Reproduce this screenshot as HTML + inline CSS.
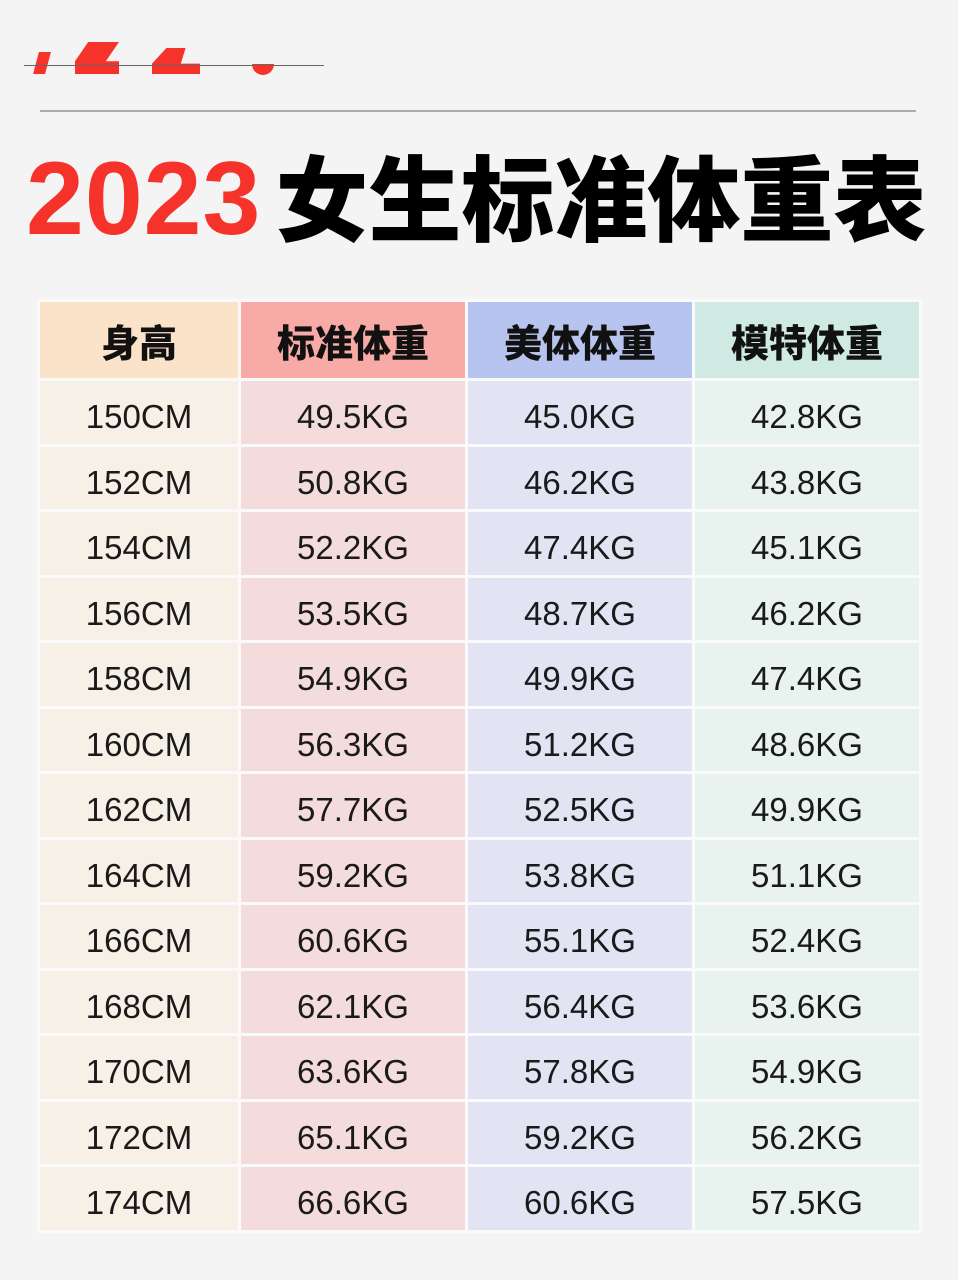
<!DOCTYPE html>
<html><head><meta charset="utf-8"><style>
body{margin:0;width:958px;height:1280px;background:#f4f4f4;position:relative;overflow:hidden;font-family:"Liberation Sans","Noto Sans CJK SC",sans-serif}
.r{position:absolute;background:#f5332a}
table{position:absolute;left:37px;top:299px;border-collapse:collapse}
td{border:3px solid #fafafa;text-align:center;font-size:33px;color:#1a1a1a;padding:10px 0 0 0;height:52.5px;box-sizing:content-box}
th{border:3px solid #fafafa;height:76px;font-size:38px;font-weight:900;font-family:"Noto Sans CJK SC",sans-serif;color:#111;padding:0}
</style></head><body>
<div class="r" style="left:36px;top:52px;width:12px;height:22px;transform:skewX(-15deg)"></div>
<div class="r" style="left:75px;top:42px;width:44px;height:32px;clip-path:polygon(30% 0,100% 0,70% 60%,100% 60%,100% 100%,0 100%,0 60%)"></div>
<div class="r" style="left:152px;top:48px;width:48px;height:26px;clip-path:polygon(30% 0,70% 0,60% 60%,100% 60%,100% 100%,0 100%,0 60%)"></div>
<div class="r" style="left:252px;top:64px;width:22px;height:11px;border-radius:0 0 11px 11px"></div>
<div style="position:absolute;left:24px;top:65px;width:300px;height:1px;background:#666"></div>
<div style="position:absolute;left:40px;top:110px;width:876px;height:2px;background:#aaa"></div>
<div style="position:absolute;left:26px;top:134px;white-space:nowrap;line-height:120px">
<span style="font-family:'Liberation Sans',sans-serif;font-weight:bold;font-size:104px;color:#f5332a;letter-spacing:1px;margin-right:14px">2023</span><span style="font-family:'Noto Sans CJK SC',sans-serif;font-weight:900;font-size:93px;color:#000;letter-spacing:0px">女生标准体重表</span>
</div>
<table>
<tr><th style="width:198px;background:#fae3c8">身高</th><th style="width:224px;background:#f7aaa6">标准体重</th><th style="width:224px;background:#b8c4f0">美体体重</th><th style="width:224px;background:#cfeae2">模特体重</th></tr>
<tbody>
<tr><td style="background:#f7f0e7">150CM</td><td style="background:#f5dcdc">49.5KG</td><td style="background:#e2e4f4">45.0KG</td><td style="background:#e8f3ef">42.8KG</td></tr>
<tr><td style="background:#f7f0e7">152CM</td><td style="background:#f5dcdc">50.8KG</td><td style="background:#e2e4f4">46.2KG</td><td style="background:#e8f3ef">43.8KG</td></tr>
<tr><td style="background:#f7f0e7">154CM</td><td style="background:#f5dcdc">52.2KG</td><td style="background:#e2e4f4">47.4KG</td><td style="background:#e8f3ef">45.1KG</td></tr>
<tr><td style="background:#f7f0e7">156CM</td><td style="background:#f5dcdc">53.5KG</td><td style="background:#e2e4f4">48.7KG</td><td style="background:#e8f3ef">46.2KG</td></tr>
<tr><td style="background:#f7f0e7">158CM</td><td style="background:#f5dcdc">54.9KG</td><td style="background:#e2e4f4">49.9KG</td><td style="background:#e8f3ef">47.4KG</td></tr>
<tr><td style="background:#f7f0e7">160CM</td><td style="background:#f5dcdc">56.3KG</td><td style="background:#e2e4f4">51.2KG</td><td style="background:#e8f3ef">48.6KG</td></tr>
<tr><td style="background:#f7f0e7">162CM</td><td style="background:#f5dcdc">57.7KG</td><td style="background:#e2e4f4">52.5KG</td><td style="background:#e8f3ef">49.9KG</td></tr>
<tr><td style="background:#f7f0e7">164CM</td><td style="background:#f5dcdc">59.2KG</td><td style="background:#e2e4f4">53.8KG</td><td style="background:#e8f3ef">51.1KG</td></tr>
<tr><td style="background:#f7f0e7">166CM</td><td style="background:#f5dcdc">60.6KG</td><td style="background:#e2e4f4">55.1KG</td><td style="background:#e8f3ef">52.4KG</td></tr>
<tr><td style="background:#f7f0e7">168CM</td><td style="background:#f5dcdc">62.1KG</td><td style="background:#e2e4f4">56.4KG</td><td style="background:#e8f3ef">53.6KG</td></tr>
<tr><td style="background:#f7f0e7">170CM</td><td style="background:#f5dcdc">63.6KG</td><td style="background:#e2e4f4">57.8KG</td><td style="background:#e8f3ef">54.9KG</td></tr>
<tr><td style="background:#f7f0e7">172CM</td><td style="background:#f5dcdc">65.1KG</td><td style="background:#e2e4f4">59.2KG</td><td style="background:#e8f3ef">56.2KG</td></tr>
<tr><td style="background:#f7f0e7">174CM</td><td style="background:#f5dcdc">66.6KG</td><td style="background:#e2e4f4">60.6KG</td><td style="background:#e8f3ef">57.5KG</td></tr>
</tbody></table>
</body></html>
